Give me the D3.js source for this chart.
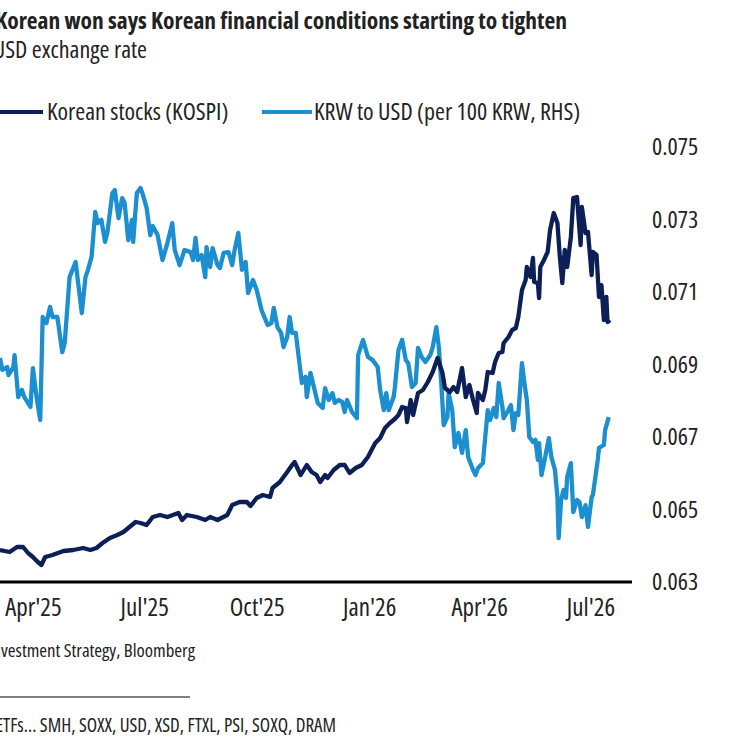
<!DOCTYPE html>
<html>
<head>
<meta charset="utf-8">
<script src="https://cdn.jsdelivr.net/npm/d3@7"></script>
<style>
  html, body { margin: 0; padding: 0; background: #fff; overflow: hidden; }
  svg text { font-family: "Open Sans", "Liberation Sans Narrow", sans-serif; font-stretch: condensed; fill: #222; }
</style>
</head>
<body>
<svg id="chart"></svg>
<script>
// dates are given as days after startDate
const startDate = new Date(2025, 2, 1);

const kospiDays = [4, 12, 18, 23, 27, 31, 35, 38, 41, 47, 56, 64, 72, 78, 83, 88, 94, 100, 105, 110,
  115, 119, 124, 129, 135, 141, 150, 153, 157, 165, 172, 176, 182, 190, 194, 200, 206, 209, 214, 219,
  225, 227, 233, 239, 243, 245, 250, 255, 259, 263, 266, 270, 272, 277, 282, 286, 290, 295, 300, 305,
  311, 315, 319, 323, 327, 330, 333, 336, 337, 340, 342, 346, 350, 354, 358, 362, 366, 368, 372, 375,
  378, 382, 385, 388, 391, 394, 395, 399, 401, 403, 407, 409, 412, 415, 416, 420, 423, 426, 428, 431,
  434, 435, 438, 440, 441, 444, 445, 446, 449, 452, 454, 457, 460, 462, 464, 466, 468, 471, 473, 476,
  479, 480, 483, 485, 488, 489, 492, 494, 496, 498, 500, 501, 503];
const kospiValues = [2420, 2400, 2450, 2450, 2390, 2350, 2300, 2270, 2350, 2370, 2410, 2420, 2440, 2420, 2440, 2490, 2540, 2570, 2600, 2650,
  2700, 2690, 2670, 2750, 2770, 2750, 2790, 2720, 2770, 2750, 2720, 2750, 2720, 2770, 2870, 2900, 2900, 2860, 2940, 2970,
  2950, 3040, 3100, 3200, 3270, 3300, 3170, 3270, 3200, 3170, 3100, 3170, 3140, 3220, 3270, 3270, 3190, 3240, 3270, 3350,
  3490, 3540, 3640, 3690, 3730, 3770, 3850, 3840, 3700, 3920, 3770, 3990, 4020, 4100, 4200, 4340, 4190, 4040, 4000, 4050,
  4000, 4240, 3950, 4070, 3920, 3790, 3990, 3920, 4020, 4200, 4190, 4300, 4390, 4400, 4490, 4550, 4620, 4640, 4750, 5020,
  5120, 5250, 5150, 5340, 5100, 5090, 4940, 5250, 5320, 5400, 5620, 5790, 5690, 5350, 5090, 5420, 5250, 5550, 5940, 5950,
  5470, 5850, 5590, 5600, 5170, 5400, 5370, 4950, 5070, 4720, 4950, 4700, 4720];

const krwDays = [4, 6, 10, 11, 15, 16, 19, 22, 24, 29, 31, 34, 37, 39, 42, 45, 47, 51, 55, 57,
  61, 66, 68, 71, 74, 76, 79, 82, 84, 87, 90, 92, 96, 98, 101, 104, 106, 109, 112, 113,
  116, 119, 121, 124, 127, 129, 133, 137, 141, 145, 147, 151, 155, 160, 162, 164, 166, 169, 172, 173,
  176, 178, 182, 184, 187, 191, 194, 196, 199, 202, 205, 207, 211, 214, 218, 223, 226, 228, 231, 234,
  236, 239, 241, 243, 246, 248, 251, 254, 255, 258, 260, 264, 268, 270, 273, 276, 278, 281, 284, 286,
  288, 292, 296, 297, 301, 305, 309, 313, 315, 318, 320, 322, 326, 327, 330, 333, 336, 338, 341, 344,
  346, 349, 352, 356, 358, 361, 363, 365, 367, 370, 371, 374, 376, 379, 382, 385, 387, 391, 393, 395,
  399, 403, 405, 408, 410, 412, 415, 416, 419, 422, 424, 426, 428, 431, 433, 435, 437, 440, 442, 444,
  445, 447, 449, 453, 455, 458, 460, 461, 463, 465, 467, 468, 471, 473, 476, 478, 480, 483, 485, 488,
  489, 493, 494, 498, 499, 502];
const krwValues = [0.06918, 0.06885, 0.06893, 0.06871, 0.06893, 0.06926, 0.06810, 0.06830, 0.06810, 0.06783, 0.06890, 0.06810, 0.06747, 0.07031, 0.07014, 0.07059, 0.07031, 0.07031, 0.06934, 0.06959,
  0.07141, 0.07183, 0.07125, 0.07042, 0.07141, 0.07161, 0.07197, 0.07321, 0.07290, 0.07299, 0.07238, 0.07266, 0.07373, 0.07381, 0.07304, 0.07359, 0.07346, 0.07243, 0.07299, 0.07238,
  0.07373, 0.07387, 0.07368, 0.07332, 0.07257, 0.07282, 0.07257, 0.07188, 0.07235, 0.07290, 0.07216, 0.07174, 0.07216, 0.07210, 0.07188, 0.07249, 0.07188, 0.07202, 0.07141, 0.07224,
  0.07169, 0.07221, 0.07174, 0.07166, 0.07208, 0.07210, 0.07174, 0.07216, 0.07263, 0.07161, 0.07183, 0.07097, 0.07133, 0.07106, 0.07050, 0.07009, 0.07014, 0.07056, 0.07003, 0.06987,
  0.06948, 0.06976, 0.07031, 0.06987, 0.06987, 0.06932, 0.06849, 0.06866, 0.06810, 0.06877, 0.06849, 0.06794, 0.06780, 0.06835, 0.06802, 0.06821, 0.06794, 0.06802, 0.06797, 0.06769,
  0.06802, 0.06769, 0.06752, 0.06926, 0.06968, 0.06921, 0.06912, 0.06893, 0.06830, 0.06774, 0.06821, 0.06774, 0.06810, 0.06835, 0.06940, 0.06968, 0.06912, 0.06904, 0.06838, 0.06849,
  0.06946, 0.06921, 0.06907, 0.06926, 0.06948, 0.07003, 0.06948, 0.06849, 0.06733, 0.06755, 0.06821, 0.06774, 0.06672, 0.06711, 0.06656, 0.06719, 0.06645, 0.06609, 0.06595, 0.06614,
  0.06628, 0.06774, 0.06747, 0.06780, 0.06755, 0.06849, 0.06783, 0.06752, 0.06769, 0.06788, 0.06719, 0.06766, 0.06761, 0.06904, 0.06849, 0.06802, 0.06700, 0.06686, 0.06692, 0.06637,
  0.06683, 0.06595, 0.06628, 0.06697, 0.06645, 0.06609, 0.06534, 0.06421, 0.06526, 0.06554, 0.06532, 0.06590, 0.06628, 0.06493, 0.06526, 0.06521, 0.06479, 0.06512, 0.06452, 0.06534,
  0.06540, 0.06637, 0.06670, 0.06678, 0.06719, 0.06755];

const rightTicks = [0.063, 0.065, 0.067, 0.069, 0.071, 0.073, 0.075];
const seriesNames = ["Korean stocks (KOSPI)", "KRW to USD (per 100 KRW, RHS)"];
const colors = ["#0c1f56", "#1b8fcf"];

const W = 739, H = 738;
const plot = { left: -5, right: 632, top: 147, bottom: 582 };

const svg = d3.select("#chart").attr("width", W).attr("height", H);
svg.append("rect").attr("width", W).attr("height", H).attr("fill", "#fff");

const xScale = d3.scaleTime()
  .domain([startDate, new Date(2026, 7, 4)])
  .range([plot.left, plot.right]);
const yRight = d3.scaleLinear().domain([0.063, 0.075]).range([plot.bottom, plot.top]);
const yLeft = d3.scaleLinear().domain([2100, 6450]).range([plot.bottom, plot.top]);

const kospi = kospiDays.map((d, i) => ({ date: d3.timeDay.offset(startDate, d), v: kospiValues[i] }));
const krw = krwDays.map((d, i) => ({ date: d3.timeDay.offset(startDate, d), v: krwValues[i] }));

// titles (the picture is cropped on the left, so they are right-aligned)
svg.append("text").attr("x", 567).attr("y", 29)
  .attr("text-anchor", "end")
  .style("font-size", "23.5px").style("font-weight", "700")
  .text("Korean won says Korean financial conditions starting to tighten");
svg.append("text").attr("x", 147).attr("y", 58)
  .attr("text-anchor", "end")
  .style("font-size", "24px")
  .text("USD exchange rate");

// legend
const legend = svg.append("g").attr("transform", "translate(0,112)");
[[-5, 43, 47], [262, 312, 314]].forEach((p, i) => {
  legend.append("line").attr("x1", p[0]).attr("x2", p[1])
    .attr("stroke", colors[i]).attr("stroke-width", 4);
  legend.append("text").attr("x", p[2]).attr("dy", "0.35em")
    .style("font-size", "24px").text(seriesNames[i]);
});

// x axis
const xAxis = svg.append("g")
  .attr("transform", `translate(0,${plot.bottom})`)
  .call(d3.axisBottom(xScale)
    .ticks(d3.timeMonth.every(3))
    .tickFormat(d3.timeFormat("%b'%y"))
    .tickSize(0)
    .tickPadding(16));
xAxis.select(".domain").remove();
xAxis.selectAll("text").style("font-size", "25px").attr("fill", "#222");

svg.append("line")
  .attr("x1", plot.left - 20).attr("x2", plot.right)
  .attr("y1", plot.bottom).attr("y2", plot.bottom)
  .attr("stroke", "#000").attr("stroke-width", 3);

// right axis
const yAxis = svg.append("g")
  .attr("transform", `translate(${plot.right},0)`)
  .call(d3.axisRight(yRight)
    .tickValues(rightTicks)
    .tickFormat(d3.format(".3f"))
    .tickSize(0)
    .tickPadding(20));
yAxis.select(".domain").remove();
yAxis.selectAll("text").style("font-size", "24px").attr("fill", "#222");

// lines
const krwLine = d3.line().x(d => xScale(d.date)).y(d => yRight(d.v));
const kospiLine = d3.line().x(d => xScale(d.date)).y(d => yLeft(d.v));

svg.append("path").datum(krw)
  .attr("fill", "none").attr("stroke", colors[1])
  .attr("stroke-width", 4.3).attr("stroke-linejoin", "round")
  .attr("d", krwLine);
svg.append("path").datum(kospi)
  .attr("fill", "none").attr("stroke", colors[0])
  .attr("stroke-width", 4.3).attr("stroke-linejoin", "round")
  .attr("d", kospiLine);

// footer
svg.append("text").attr("x", 195).attr("y", 657)
  .attr("text-anchor", "end")
  .style("font-size", "18.8px")
  .text("Source: BofA Global Investment Strategy, Bloomberg");
svg.append("line").attr("x1", -5).attr("x2", 190)
  .attr("y1", 697).attr("y2", 697)
  .attr("stroke", "#000").attr("stroke-width", 1);
svg.append("text").attr("x", 336).attr("y", 732)
  .attr("text-anchor", "end")
  .style("font-size", "19px")
  .text("ETFs... SMH, SOXX, USD, XSD, FTXL, PSI, SOXQ, DRAM");
</script>
</body>
</html>
